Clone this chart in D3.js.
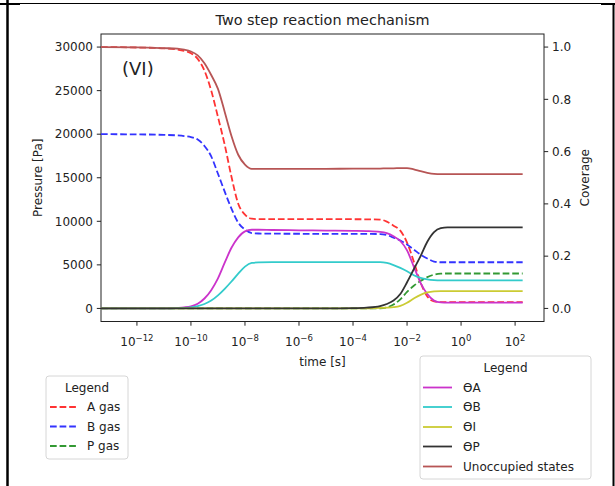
<!DOCTYPE html>
<html><head>
<meta charset="utf-8">
<script src="https://d3js.org/d3.v7.min.js"></script>
<style>
  body { margin: 0; background: #fff; }
  text { font-family: "DejaVu Sans", sans-serif; fill: #222; }
</style>
</head>
<body>
<svg id="chart" width="615" height="486"></svg>
<script>
// time grid, as log10(t [s])
const logT = [-13.33, -12, -11, -10.5, -10.25, -10, -9.75, -9.5, -9.25, -9, -8.75, -8.5, -8.25, -8, -7.75, -7.5, -7,
  -6, -5, -4, -3.5, -3, -2.75, -2.5, -2.25, -2, -1.75, -1.5, -1.25, -1, -0.75, -0.5, 0, 1, 2.28];

// gas pressures [Pa]
const aGas = [30000, 29950, 29850, 29720, 29560, 29300, 28650, 27300, 25000, 21980, 18780, 15110, 12020, 10760, 10300, 10250, 10250,
  10250, 10250, 10240, 10230, 10200, 9960, 9500, 8930, 7560, 5380, 2980, 1370, 800, 720, 720, 720, 720, 720];
const bGas = [20000, 19980, 19920, 19860, 19790, 19670, 19380, 18650, 17450, 15460, 13400, 11450, 9850, 9050, 8640, 8600, 8580,
  8570, 8560, 8560, 8550, 8540, 8420, 8130, 7790, 7330, 6760, 6180, 5730, 5380, 5300, 5300, 5300, 5300, 5300];
const pGas = [0, 0, 0, 0, 0, 0, 0, 0, 0, 0, 0, 0, 0, 0, 0, 0, 0,
  0, 0, 0, 0, 10, 110, 450, 1050, 1900, 2600, 3150, 3600, 3880, 3990, 4010, 4010, 4010, 4010];

// coverages
const thetaA = [0, 0, 0, 0.002, 0.004, 0.008, 0.018, 0.038, 0.07, 0.115, 0.175, 0.232, 0.272, 0.295, 0.301, 0.301, 0.3,
  0.299, 0.298, 0.297, 0.296, 0.293, 0.288, 0.276, 0.258, 0.222, 0.16, 0.098, 0.055, 0.03, 0.023, 0.022, 0.022, 0.022, 0.022];
const thetaB = [0, 0, 0, 0.001, 0.002, 0.004, 0.009, 0.017, 0.03, 0.05, 0.075, 0.103, 0.133, 0.16, 0.174, 0.176, 0.177,
  0.177, 0.177, 0.177, 0.177, 0.177, 0.174, 0.166, 0.155, 0.142, 0.127, 0.117, 0.111, 0.108, 0.107, 0.107, 0.107, 0.107, 0.107];
const thetaI = [0, 0, 0, 0, 0, 0, 0, 0, 0, 0, 0, 0, 0, 0, 0, 0, 0,
  0, 0, 0, 0, 0.002, 0.003, 0.005, 0.01, 0.022, 0.038, 0.052, 0.061, 0.065, 0.066, 0.066, 0.066, 0.066, 0.066];
const thetaP = [0, 0, 0, 0, 0, 0, 0, 0, 0, 0, 0, 0, 0, 0, 0, 0, 0,
  0, 0, 0.001, 0.003, 0.009, 0.017, 0.03, 0.055, 0.1, 0.15, 0.2, 0.255, 0.292, 0.307, 0.31, 0.31, 0.31, 0.31];
const unoccupied = [1.0, 0.999, 0.996, 0.994, 0.99, 0.983, 0.968, 0.938, 0.893, 0.84, 0.752, 0.66, 0.588, 0.55, 0.534, 0.534, 0.534,
  0.534, 0.534, 0.535, 0.535, 0.535, 0.536, 0.536, 0.537, 0.537, 0.532, 0.525, 0.519, 0.515, 0.514, 0.514, 0.514, 0.514, 0.514];

const xTicks = [-12, -10, -8, -6, -4, -2, 0, 2];
const pressureTicks = [0, 5000, 10000, 15000, 20000, 25000, 30000];
const coverageTicks = [0, 0.2, 0.4, 0.6, 0.8, 1.0];

const gasSeries = [
  { name: "A gas", values: aGas, color: "#ff3333" },
  { name: "B gas", values: bGas, color: "#3333ff" },
  { name: "P gas", values: pGas, color: "#339933" }
];
const covSeries = [
  { name: "ϴA", values: thetaA, color: "#cb33cb" },
  { name: "ϴB", values: thetaB, color: "#33cbcb" },
  { name: "ϴI", values: thetaI, color: "#cbcb33" },
  { name: "ϴP", values: thetaP, color: "#333333" },
  { name: "Unoccupied states", values: unoccupied, color: "#b75555" }
];

const svg = d3.select("#chart");
const mLeft = 101, mRight = 544, mTop = 34, mBottom = 321.5;

// notebook cell frame
svg.append("line").attr("x1", 7.5).attr("x2", 7.5).attr("y1", 0).attr("y2", 486).attr("stroke", "#000").attr("stroke-width", 2.5);
svg.append("line").attr("x1", 0).attr("x2", 20).attr("y1", 4).attr("y2", 4).attr("stroke", "#000").attr("stroke-width", 2);
svg.append("line").attr("x1", 20).attr("x2", 601).attr("y1", 3.5).attr("y2", 3.5).attr("stroke", "#000").attr("stroke-width", 1);
svg.append("line").attr("x1", 601).attr("x2", 615).attr("y1", 4).attr("y2", 4).attr("stroke", "#000").attr("stroke-width", 2);
svg.append("line").attr("x1", 613.5).attr("x2", 613.5).attr("y1", 3).attr("y2", 486).attr("stroke", "#000").attr("stroke-width", 2);

const x = d3.scaleLog().domain([Math.pow(10, -13.33), Math.pow(10, 3.07)]).range([mLeft, mRight]);
const yP = d3.scaleLinear().domain([-1500, 31500]).range([mBottom, mTop]);
const yC = d3.scaleLinear().domain([-0.05, 1.05]).range([mBottom, mTop]);

// axes frame
svg.append("rect").attr("x", mLeft).attr("y", mTop).attr("width", mRight - mLeft).attr("height", mBottom - mTop)
  .attr("fill", "none").attr("stroke", "#222").attr("stroke-width", 1);

// x ticks
const xt = svg.append("g");
xTicks.forEach(e => {
  const px = x(Math.pow(10, e));
  xt.append("line").attr("x1", px).attr("x2", px).attr("y1", mBottom).attr("y2", mBottom + 4.2).attr("stroke", "#222");
  const t = xt.append("text").attr("x", px).attr("y", 346).attr("text-anchor", "middle").attr("font-size", 12);
  t.append("tspan").text("10");
  t.append("tspan").attr("dy", -5).attr("font-size", 8.5).text(e < 0 ? "−" + (-e) : String(e));
});

// left y ticks
pressureTicks.forEach(v => {
  const py = yP(v);
  svg.append("line").attr("x1", mLeft - 4.2).attr("x2", mLeft).attr("y1", py).attr("y2", py).attr("stroke", "#222");
  svg.append("text").attr("x", mLeft - 8).attr("y", py + 4.3).attr("text-anchor", "end").attr("font-size", 12).text(v);
});

// right y ticks
coverageTicks.forEach(v => {
  const py = yC(v);
  svg.append("line").attr("x1", mRight).attr("x2", mRight + 4.2).attr("y1", py).attr("y2", py).attr("stroke", "#222");
  svg.append("text").attr("x", mRight + 8).attr("y", py + 4.3).attr("font-size", 12).text(v.toFixed(1));
});

// labels
svg.append("text").attr("x", (mLeft + mRight) / 2).attr("y", 25).attr("text-anchor", "middle").attr("font-size", 14.4).text("Two step reaction mechanism");
svg.append("text").attr("x", (mLeft + mRight) / 2).attr("y", 366).attr("text-anchor", "middle").attr("font-size", 12).text("time [s]");
svg.append("text").attr("transform", `translate(42,${(mTop + mBottom) / 2}) rotate(-90)`).attr("text-anchor", "middle").attr("font-size", 12).text("Pressure [Pa]");
svg.append("text").attr("transform", `translate(589,${(mTop + mBottom) / 2}) rotate(-90)`).attr("text-anchor", "middle").attr("font-size", 12).text("Coverage");
svg.append("text").attr("x", 122).attr("y", 75).attr("font-size", 18).text("(VI)");

// curves
const lineFor = yScale => d3.line()
  .x((d, i) => x(Math.pow(10, logT[i])))
  .y(d => yScale(d))
  .curve(d3.curveMonotoneX);

gasSeries.forEach(s => {
  svg.append("path").attr("d", lineFor(yP)(s.values)).attr("fill", "none")
    .attr("stroke", s.color).attr("stroke-width", 1.8).attr("stroke-dasharray", "6.7,2.9");
});
covSeries.forEach(s => {
  svg.append("path").attr("d", lineFor(yC)(s.values)).attr("fill", "none")
    .attr("stroke", s.color).attr("stroke-width", 1.8);
});

// legends
function legend(x0, y0, w, h, items, dashed, lineX0, lineX1, textX, rowY) {
  const g = svg.append("g");
  g.append("rect").attr("x", x0).attr("y", y0).attr("width", w).attr("height", h).attr("rx", 3)
    .attr("fill", "#fff").attr("fill-opacity", 0.8).attr("stroke", "#d6d6d6");
  g.append("text").attr("x", x0 + w / 2).attr("y", y0 + 15.5).attr("text-anchor", "middle").attr("font-size", 12).text("Legend");
  items.forEach((s, i) => {
    const yy = rowY[i];
    g.append("line").attr("x1", lineX0).attr("x2", lineX1).attr("y1", yy).attr("y2", yy)
      .attr("stroke", s.color).attr("stroke-width", 1.8).attr("stroke-dasharray", dashed ? "6.7,2.9" : null);
    g.append("text").attr("x", textX).attr("y", yy + 4.3).attr("font-size", 12).text(s.name);
  });
}
legend(46, 376, 82, 83, gasSeries, true, 50, 77, 87, [407, 426.5, 446]);
legend(420, 356, 171, 123, covSeries, false, 423, 452, 463, [387.5, 407, 427, 446.5, 466.5]);
</script>
</body>
</html>
